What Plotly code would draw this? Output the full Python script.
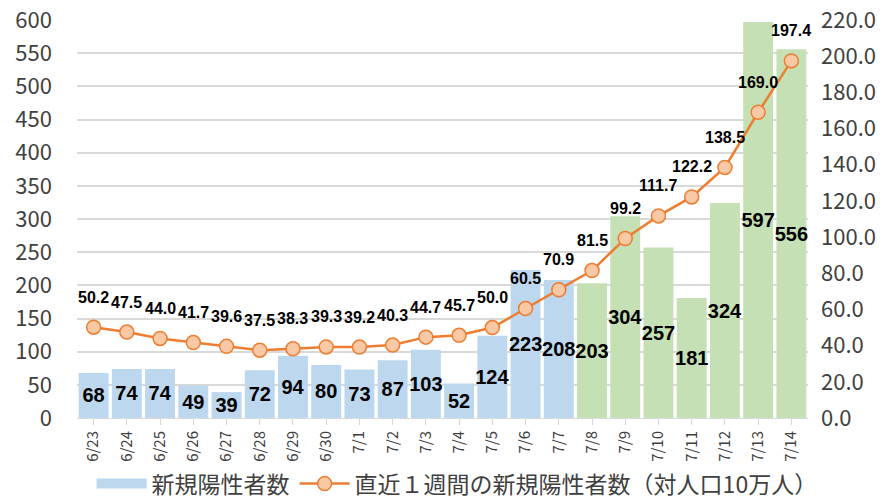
import plotly.graph_objects as go

dates = ["6/23","6/24","6/25","6/26","6/27","6/28","6/29","6/30","7/1","7/2","7/3","7/4",
         "7/5","7/6","7/7","7/8","7/9","7/10","7/11","7/12","7/13","7/14"]
new_cases = [68,74,74,49,39,72,94,80,73,87,103,52,124,223,208,203,304,257,181,324,597,556]
per_100k = [50.2,47.5,44.0,41.7,39.6,37.5,38.3,39.3,39.2,40.3,44.7,45.7,50.0,60.5,70.9,
            81.5,99.2,111.7,122.2,138.5,169.0,197.4]
bar_colors = ["#BDD7EE"]*15 + ["#C5E0B4"]*7

cjk = "Noto Sans CJK JP"
fig = go.Figure()
fig.add_trace(go.Bar(
    x=dates, y=new_cases, name="新規陽性者数", showlegend=False,
    marker=dict(color=bar_colors, line=dict(width=0)),
    text=[str(v) for v in new_cases], textposition="inside", insidetextanchor="middle",
    textfont=dict(family="Liberation Sans", size=20, color="black", weight="bold"),
    textangle=0, cliponaxis=False,
))
# legend entry for the bars (wide swatch like the reference)
fig.add_trace(go.Scatter(
    x=[None], y=[None], mode="lines", name="新規陽性者数",
    line=dict(color="#BDD7EE", width=11),
))
fig.add_trace(go.Scatter(
    x=dates, y=per_100k, yaxis="y2", name="直近１週間の新規陽性者数（対人口10万人）",
    mode="lines+markers",
    line=dict(color="#ED7D31", width=2.5),
    marker=dict(size=14, color="#F9C9A6", line=dict(color="#ED7D31", width=1.5)),
))
for d, v in zip(dates, per_100k):
    fig.add_annotation(x=d, y=v, yref="y2", text=f"{v:.1f}", showarrow=False,
                       yshift=30, font=dict(family="Liberation Sans", size=16, color="black", weight="bold"))

fig.update_layout(
    width=892, height=499,
    margin=dict(l=77, r=84, t=20, b=81, autoexpand=False),
    plot_bgcolor="white", paper_bgcolor="white",
    bargap=0.1,
    uniformtext=dict(minsize=20, mode="show"),
    showlegend=True,
    legend=dict(orientation="h", x=0.52, xanchor="center", y=-0.165, yanchor="middle",
                font=dict(family=cjk, size=23, color="#404040"), itemwidth=50,
                tracegroupgap=0),
    xaxis=dict(type="category", range=[-0.5, 21.5], tickangle=-90,
               tickfont=dict(family=cjk, size=15, color="#404040"),
               showline=True, linecolor="#D9D9D9", ticks="outside", ticklen=6, tickcolor="#D9D9D9",
               showgrid=False, automargin=False),
    yaxis=dict(range=[0, 600], dtick=50, tickfont=dict(family=cjk, size=22, color="#404040"),
               gridcolor="#D9D9D9", gridwidth=1.5, zeroline=False, ticklabelstandoff=24,
               automargin=False),
    yaxis2=dict(range=[0, 220], dtick=20, tickformat=".1f", overlaying="y", side="right",
                tickfont=dict(family=cjk, size=22, color="#404040"), showgrid=False, zeroline=False,
                ticklabelstandoff=12, automargin=False),
)
fig.write_html("out.html", post_script="document.body.style.margin='0';",
               config={"displayModeBar": False})
